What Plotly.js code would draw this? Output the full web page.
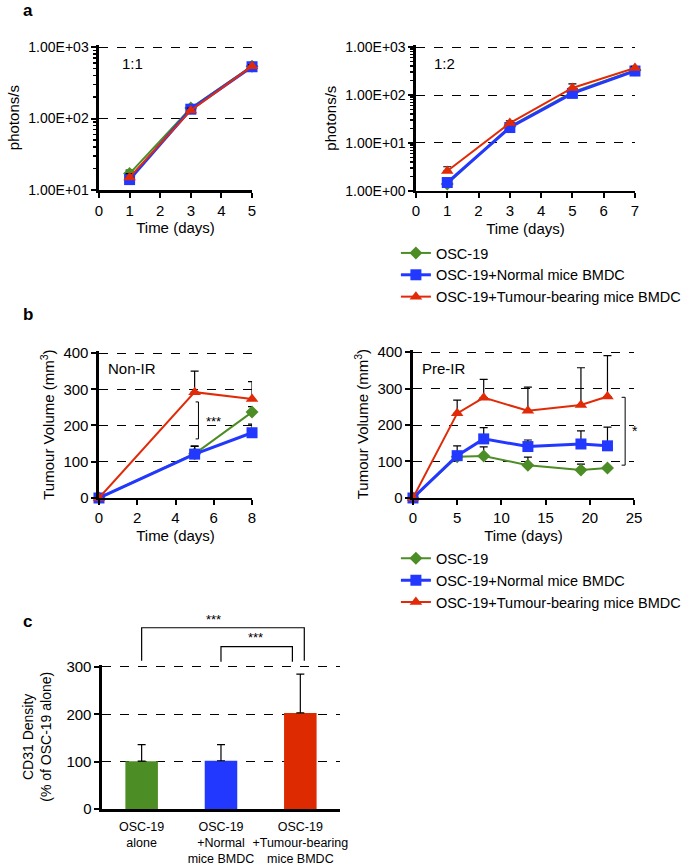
<!DOCTYPE html>
<html><head><meta charset="utf-8">
<script src="https://cdn.plot.ly/plotly-3.0.1.min.js"></script>
<style>html,body{margin:0;padding:0;background:#fff}</style>
</head><body><div id="chart" style="width:697px;height:865px"></div>
<script>
// ---------- data ----------
const seriesNames = ["OSC-19", "OSC-19+Normal mice BMDC", "OSC-19+Tumour-bearing mice BMDC"];

// panel a, 1:1
const daysA1 = [1, 3, 5];
const a1Osc = [17, 140, 540];
const a1Norm = [14, 135, 530];
const a1Tum = [15, 130, 540];
const a1OscErr = [2, 10, 30];
const a1NormErr = [2, 10, 30];
const a1TumErr = [2, 10, 30];

// panel a, 1:2
const daysA2 = [1, 3, 5, 7];
const a2Osc = [1.4, 22, 115, 330];
const a2Norm = [1.5, 21, 108, 316];
const a2Tum = [2.6, 26, 140, 365];
const a2OscErr = [0.2, 2, 10, 25];
const a2NormErr = [0.2, 2, 10, 25];
const a2TumErr = [0.6, 3, 30, 30];

// panel b, Non-IR
const daysB1 = [0, 5, 8];
const b1Osc = [0, 122, 237];
const b1Norm = [0, 121, 180];
const b1Tum = [0, 292, 273];
const b1OscErr = [0, 20, 15];
const b1NormErr = [0, 23, 24];
const b1TumErr = [0, 58, 48];

// panel b, Pre-IR
const daysB2 = [0, 5, 8, 13, 19, 22];
const b2Osc = [0, 113, 115, 90, 77, 82];
const b2Norm = [0, 116, 162, 141, 148, 143];
const b2Tum = [0, 232, 275, 239, 255, 278];
const b2OscErr = [0, 0, 25, 22, 16, 0];
const b2NormErr = [0, 27, 31, 18, 36, 51];
const b2TumErr = [0, 36, 50, 65, 102, 112];

// panel c
const groupsC = ["OSC-19<br>alone", "OSC-19<br>+Normal<br>mice BMDC", "OSC-19<br>+Tumour-bearing<br>mice BMDC"];
const cd31 = [101, 102, 203];
const cd31Err = [35, 34, 82];

// tick labels
const logTicksA1 = [10, 100, 1000];
const logTextA1 = ["1.00E+01", "1.00E+02", "1.00E+03"];
const logTicksA2 = [1, 10, 100, 1000];
const logTextA2 = ["1.00E+00", "1.00E+01", "1.00E+02", "1.00E+03"];

// ---------- styles ----------
const FONT = "Liberation Sans, Arial, sans-serif";
const GREEN = "#4d8d25", BLUE = "#2338ff", RED = "#e12a08";
const styles = [
  {color: GREEN, symbol: "diamond", size: 10, lw: 2},
  {color: BLUE, symbol: "square", size: 11, lw: 3},
  {color: RED, symbol: "triangle-up", size: 11, lw: 2}
];
function err(arr) {
  return {type: "data", symmetric: false, array: arr, arrayminus: arr.map(() => 0),
          color: "black", thickness: 1.2, width: 4};
}
function line(x, y, e, i, xa, ya, legend, showlegend) {
  const s = styles[i];
  return {type: "scatter", mode: "lines+markers", x: x, y: y, name: seriesNames[i],
    xaxis: xa, yaxis: ya, legend: legend, showlegend: showlegend, cliponaxis: false,
    line: {color: s.color, width: s.lw},
    marker: {color: s.color, symbol: s.symbol, size: s.size},
    error_y: err(e)};
}

const traces = [
  line(daysA1, a1Osc, a1OscErr, 0, "x", "y", "legend", false),
  line(daysA1, a1Norm, a1NormErr, 1, "x", "y", "legend", false),
  line(daysA1, a1Tum, a1TumErr, 2, "x", "y", "legend", false),
  line(daysA2, a2Osc, a2OscErr, 0, "x2", "y2", "legend", true),
  line(daysA2, a2Norm, a2NormErr, 1, "x2", "y2", "legend", true),
  line(daysA2, a2Tum, a2TumErr, 2, "x2", "y2", "legend", true),
  line(daysB1, b1Osc, b1OscErr, 0, "x3", "y3", "legend2", false),
  line(daysB1, b1Norm, b1NormErr, 1, "x3", "y3", "legend2", false),
  line(daysB1, b1Tum, b1TumErr, 2, "x3", "y3", "legend2", false),
  line(daysB2, b2Osc, b2OscErr, 0, "x4", "y4", "legend2", true),
  line(daysB2, b2Norm, b2NormErr, 1, "x4", "y4", "legend2", true),
  line(daysB2, b2Tum, b2TumErr, 2, "x4", "y4", "legend2", true),
  {type: "bar", x: groupsC, y: cd31, xaxis: "x5", yaxis: "y5", showlegend: false,
   width: 0.41, marker: {color: [GREEN, BLUE, "#de2a00"]}, error_y: err(cd31Err)}
];

function minorLog(lo, hi) {
  const v = [];
  for (let d = lo; d < hi; d++) for (let m = 2; m <= 9; m++) v.push(m * Math.pow(10, d));
  return v;
}

const baseAxis = {showline: true, linecolor: "black", linewidth: 2.5, ticks: "outside",
  ticklen: 5, tickwidth: 2, tickcolor: "black", zeroline: false, showgrid: false,
  tickfont: {family: FONT, size: 15, color: "black"}, fixedrange: true};
const gridY = {showgrid: true, gridcolor: "black", griddash: "dash", gridwidth: 1};
function xt(t) { return {text: t, font: {family: FONT, size: 15, color: "black"}, standoff: 5}; }

const layout = {
  width: 697, height: 865, margin: {l: 0, r: 0, t: 0, b: 0},
  paper_bgcolor: "white", plot_bgcolor: "white",
  font: {family: FONT, color: "black"},
  xaxis: Object.assign({}, baseAxis, {domain: [0.142, 0.3616], anchor: "y", range: [0, 5], dtick: 1, title: xt("Time (days)")}),
  yaxis: Object.assign({}, baseAxis, gridY, {domain: [0.7803, 0.9477], anchor: "x", type: "log", range: [1, 3.025],
    tickvals: logTicksA1, ticktext: logTextA1, tickfont: {family: FONT, size: 14, color: "black"},
    minor: {tickvals: minorLog(1, 3), ticks: "outside", ticklen: 3, tickwidth: 1.5, tickcolor: "black", showgrid: false},
    title: xt("photons/s")}),
  xaxis2: Object.assign({}, baseAxis, {domain: [0.5968, 0.911], anchor: "y2", range: [0, 7], dtick: 1, title: xt("Time (days)")}),
  yaxis2: Object.assign({}, baseAxis, gridY, {domain: [0.7792, 0.9476], anchor: "x2", type: "log", range: [0, 3.035],
    tickvals: logTicksA2, ticktext: logTextA2, tickfont: {family: FONT, size: 14, color: "black"},
    minor: {tickvals: minorLog(0, 3), ticks: "outside", ticklen: 3, tickwidth: 1.5, tickcolor: "black", showgrid: false},
    title: xt("photons/s")}),
  xaxis3: Object.assign({}, baseAxis, {domain: [0.142, 0.3616], anchor: "y3", range: [0, 8], dtick: 2, title: xt("Time (days)")}),
  yaxis3: Object.assign({}, baseAxis, gridY, {domain: [0.4243, 0.594], anchor: "x3", range: [0, 405], tickvals: [0, 100, 200, 300, 400],
    title: xt("Tumour Volume (mm<sup>3</sup>)")}),
  xaxis4: Object.assign({}, baseAxis, {domain: [0.5925, 0.9096], anchor: "y4", range: [0, 25], dtick: 5, title: xt("Time (days)")}),
  yaxis4: Object.assign({}, baseAxis, gridY, {domain: [0.4243, 0.5951], anchor: "x4", range: [0, 405], tickvals: [0, 100, 200, 300, 400],
    title: xt("Tumour Volume (mm<sup>3</sup>)")}),
  xaxis5: Object.assign({}, baseAxis, {domain: [0.1463, 0.4878], anchor: "y5", range: [-0.5, 2.5], ticks: "", tickangle: 0,
    ticklabelstandoff: 4, tickfont: {family: FONT, size: 12.5, color: "black"}}),
  yaxis5: Object.assign({}, baseAxis, gridY, {domain: [0.0647, 0.2317], anchor: "x5", range: [0, 305], tickvals: [0, 100, 200, 300],
    title: {text: "CD31 Density<br>(% of OSC-19 alone)", font: {family: FONT, size: 14, color: "black"}, standoff: 12}}),
  legend: {x: 0.568, y: 0.726, xanchor: "left", yanchor: "top", bgcolor: "rgba(0,0,0,0)",
    font: {family: FONT, size: 14.5, color: "black"}, tracegroupgap: 0, itemwidth: 30},
  legend2: {x: 0.568, y: 0.373, xanchor: "left", yanchor: "top", bgcolor: "rgba(0,0,0,0)",
    font: {family: FONT, size: 14.5, color: "black"}, tracegroupgap: 0, itemwidth: 30},
  annotations: [
    {text: "<b>a</b>", x: 0.03, y: 0.988, xref: "paper", yref: "paper", xanchor: "left", yanchor: "middle", showarrow: false, font: {family: FONT, size: 17}},
    {text: "<b>b</b>", x: 0.03, y: 0.636, xref: "paper", yref: "paper", xanchor: "left", yanchor: "middle", showarrow: false, font: {family: FONT, size: 17}},
    {text: "<b>c</b>", x: 0.03, y: 0.281, xref: "paper", yref: "paper", xanchor: "left", yanchor: "middle", showarrow: false, font: {family: FONT, size: 17}},
    {text: "1:1", x: 0.137, y: 0.874, xref: "x domain", yref: "y domain", xanchor: "left", yanchor: "middle", showarrow: false, font: {family: FONT, size: 15}},
    {text: "1:2", x: 0.073, y: 0.875, xref: "x2 domain", yref: "y2 domain", xanchor: "left", yanchor: "middle", showarrow: false, font: {family: FONT, size: 15}},
    {text: "Non-IR", x: 0.046, y: 0.88, xref: "x3 domain", yref: "y3 domain", xanchor: "left", yanchor: "middle", showarrow: false, font: {family: FONT, size: 15}},
    {text: "Pre-IR", x: 0.032, y: 0.875, xref: "x4 domain", yref: "y4 domain", xanchor: "left", yanchor: "middle", showarrow: false, font: {family: FONT, size: 15}},
    {text: "***", x: 5.5, y: 212, xref: "x3", yref: "y3", xanchor: "left", yanchor: "middle", showarrow: false, font: {family: FONT, size: 13}},
    {text: "*", x: 24.6, y: 183, xref: "x4", yref: "y4", xanchor: "left", yanchor: "middle", showarrow: false, font: {family: FONT, size: 14}},
    {text: "***", x: 0.9, y: 0.2835, xref: "x5", yref: "paper", xanchor: "center", yanchor: "middle", showarrow: false, font: {family: FONT, size: 13}},
    {text: "***", x: 1.44, y: 0.2625, xref: "x5", yref: "paper", xanchor: "center", yanchor: "middle", showarrow: false, font: {family: FONT, size: 13}}
  ],
  shapes: [
    {type: "path", xref: "x3", yref: "y3", path: "M5.05,265 L5.2,265 L5.2,163 L5.05,163", line: {color: "black", width: 1}},
    {type: "path", xref: "x4", yref: "y4", path: "M23.6,276 L24.0,276 L24.0,90 L23.6,90", line: {color: "black", width: 1}},
    {type: "path", xref: "x5", yref: "paper", path: "M0,0.2362 L0,0.2743 L2.05,0.2743 L2.05,0.2362", line: {color: "black", width: 1.2}},
    {type: "path", xref: "x5", yref: "paper", path: "M1,0.235 L1,0.2524 L1.9,0.2524 L1.9,0.235", line: {color: "black", width: 1.2}}
  ]
};

Plotly.newPlot("chart", traces, layout, {displayModeBar: false, staticPlot: true});
</script></body></html>
